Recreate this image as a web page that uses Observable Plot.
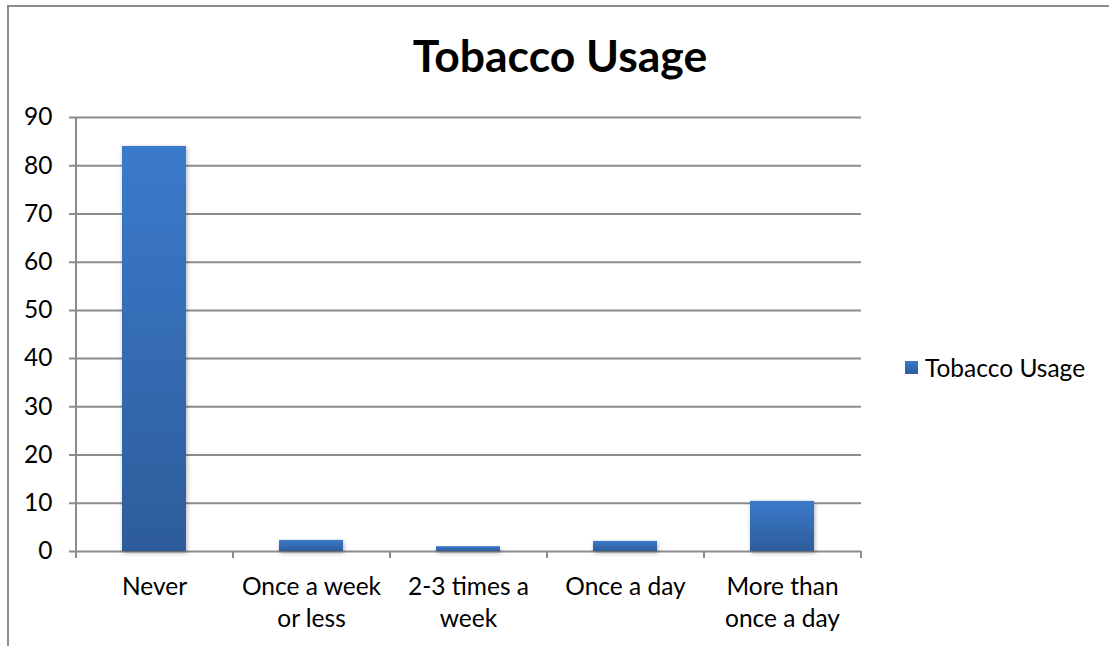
<!DOCTYPE html>
<html><head><meta charset="utf-8">
<script src="https://cdn.jsdelivr.net/npm/d3@7"></script>
<script src="https://cdn.jsdelivr.net/npm/@observablehq/plot@0.6"></script>
<style>
body{margin:0;background:#fff;}
#wrap{position:relative;width:1109px;height:646px;overflow:hidden;font-family:Lato,"Open Sans",sans-serif;color:#000;}
#frame{position:absolute;left:7px;top:5px;width:1120px;height:680px;border-left:2px solid #8c8c8c;border-top:2px solid #8c8c8c;}
#title{position:absolute;left:0;width:1120px;top:27px;text-align:center;font-weight:bold;font-size:44.5px;line-height:56px;}
#chart{position:absolute;left:0;top:100px;}
#legend{position:absolute;left:905px;top:353px;font-size:24.5px;display:flex;align-items:center;white-space:nowrap;}
#legend .sw{width:13px;height:13px;margin-right:7px;background:linear-gradient(#3b7bcc,#2e5c9a);}
</style></head>
<body>
<div id="wrap">
  <div id="frame"></div>
  <div id="title">Tobacco Usage</div>
  <div id="chart"></div>
  <div id="legend"><div class="sw"></div><span>Tobacco Usage</span></div>
</div>
<script>
const categories = ["Never", "Once a week or less", "2-3 times a week", "Once a day", "More than once a day"];
const tickLabels = ["Never", "Once a week\nor less", "2-3 times a\nweek", "Once a day", "More than\nonce a day"];
const values = [84, 2.3, 1.0, 2.1, 10.4];
const yTicks = [0, 10, 20, 30, 40, 50, 60, 70, 80, 90];

const data = categories.map((c, i) => ({category: c, value: values[i]}));
const grid = "#8c8c8c";
const half = 785 / 5 / 2;

const chart = Plot.plot({
  width: 880, height: 546,
  marginLeft: 76, marginRight: 19, marginTop: 17, marginBottom: 95,
  style: {fontFamily: "Lato, 'Open Sans', sans-serif", fontSize: "24.5px", color: "#000", background: "transparent", overflow: "visible"},
  x: {domain: categories, paddingInner: 0.592, paddingOuter: 0.296, axis: null, label: null},
  y: {domain: [0, 90], axis: null, label: null},
  marks: [
    Plot.ruleY(yTicks, {y: d => d, stroke: grid, strokeWidth: 2, insetLeft: -7}),
    Plot.ruleX([categories[0]], {x: d => d, dx: -half, stroke: grid, strokeWidth: 2, insetBottom: -7}),
    Plot.ruleX(categories.slice(1), {x: d => d, dx: -half, y1: 0, y2: 0, stroke: grid, strokeWidth: 2, insetBottom: -7}),
    Plot.ruleX([categories[4]], {x: d => d, dx: half, y1: 0, y2: 0, stroke: grid, strokeWidth: 2, insetBottom: -7}),
    Plot.barY(data, {x: "category", y: "value", fill: "url(#barGrad)"}),
    Plot.axisY({ticks: yTicks, tickSize: 0, tickPadding: 24, fontSize: 24.5, label: null}),
    Plot.axisX({tickSize: 0, tickPadding: 21, fontSize: 24.5, lineHeight: 1.3, label: null,
      tickFormat: d => tickLabels[categories.indexOf(d)]})
  ]
});

const ns = "http://www.w3.org/2000/svg";
const defs = document.createElementNS(ns, "defs");
const lg = document.createElementNS(ns, "linearGradient");
lg.setAttribute("id", "barGrad");
lg.setAttribute("x1", "0"); lg.setAttribute("y1", "0");
lg.setAttribute("x2", "0"); lg.setAttribute("y2", "1");
[["0%", "#3b7bcc"], ["100%", "#2e5c9a"]].forEach(([o, c]) => {
  const s = document.createElementNS(ns, "stop");
  s.setAttribute("offset", o); s.setAttribute("stop-color", c);
  lg.appendChild(s);
});
defs.appendChild(lg);
chart.insertBefore(defs, chart.firstChild);
const barG = chart.querySelector("g[aria-label='bar']");
if (barG) barG.setAttribute("style", "filter: drop-shadow(1px 2px 2px rgba(0,0,0,0.3))");
document.getElementById("chart").appendChild(chart);
</script>
</body></html>
